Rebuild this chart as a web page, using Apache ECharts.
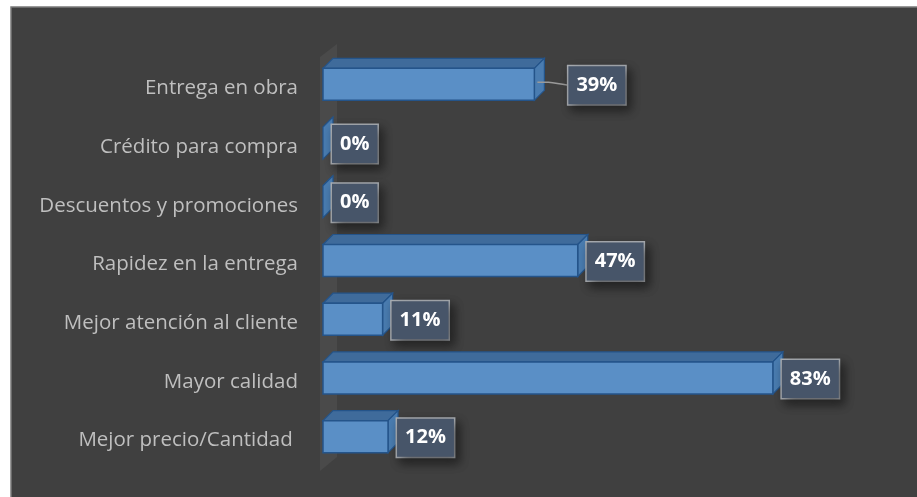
<!DOCTYPE html>
<html>
<head>
<meta charset="utf-8">
<script src="https://cdn.jsdelivr.net/npm/echarts@6/dist/echarts.min.js"></script>
<style>
  html, body { margin: 0; padding: 0; background: #ffffff; }
  #chart { width: 917px; height: 497px; }
</style>
</head>
<body>
<div id="chart"></div>
<script>
var categories = [
    'Entrega en obra',
    'Crédito para compra',
    'Descuentos y promociones',
    'Rapidez en la entrega',
    'Mejor atención al cliente',
    'Mayor calidad',
    'Mejor precio/Cantidad '
];
var values = [39, 0, 0, 47, 11, 83, 12];

var myChart = echarts.init(document.getElementById('chart'));

var DEPTH_X = 10, DEPTH_Y = -10, FACE_H = 32;
// the first label sits further right with a leader line, like in the original
var labelNudge = [25, 0, 0, 0, 0, 0, 0];

function renderBar(params, api) {
    var i = params.dataIndex;
    var start = api.coord([0, i]);
    var end = api.coord([api.value(0), i]);
    var x0 = start[0], x1 = end[0], cy = start[1];
    var top = cy - FACE_H / 2, bot = cy + FACE_H / 2;
    var children = [];

    // category name (drawn here so it can sit a little below the bar centre)
    children.push({
        type: 'text',
        x: x0 - 25,
        y: cy + 4,
        style: {
            text: categories[api.value(1)],
            fill: '#bfbfbf',
            font: '20.5px "Open Sans", sans-serif',
            align: 'right',
            verticalAlign: 'middle'
        }
    });

    // top face
    children.push({
        type: 'polygon',
        shape: { points: [[x0, top], [x0 + DEPTH_X, top + DEPTH_Y], [x1 + DEPTH_X, top + DEPTH_Y], [x1, top]] },
        style: { fill: '#3f6b9b', stroke: '#24548a', lineWidth: 1.2 }
    });
    // side face
    children.push({
        type: 'polygon',
        shape: { points: [[x1, top], [x1 + DEPTH_X, top + DEPTH_Y], [x1 + DEPTH_X, bot + DEPTH_Y], [x1, bot]] },
        style: { fill: '#4a7cb0', stroke: '#24548a', lineWidth: 1.2 }
    });
    // front face
    if (x1 - x0 > 0.5) {
        children.push({
            type: 'rect',
            shape: { x: x0, y: top, width: x1 - x0, height: FACE_H },
            style: { fill: '#5a8fc6', stroke: '#24548a', lineWidth: 1.5 }
        });
    }

    var lx = x1 + 9 + labelNudge[i];
    if (labelNudge[i] > 0) {
        children.push({
            type: 'polyline',
            shape: { points: [[x1 + 3, cy - 2], [x1 + 14, cy - 2], [lx, cy + 1]], smooth: 0.4 },
            style: { stroke: '#9a9a9a', lineWidth: 1.5, fill: null }
        });
    }
    children.push({
        type: 'text',
        x: lx,
        y: cy + 1,
        style: {
            text: api.value(0) + '%',
            fill: '#ffffff',
            font: 'bold 20px "Open Sans", sans-serif',
            lineHeight: 24,
            verticalAlign: 'middle',
            align: 'left',
            backgroundColor: '#475569',
            borderColor: '#a9adb2',
            borderWidth: 1.5,
            padding: [7, 8, 7, 8],
            shadowColor: 'rgba(0,0,0,0.45)',
            shadowBlur: 10,
            shadowOffsetX: 4,
            shadowOffsetY: 5
        }
    });
    return { type: 'group', children: children };
}

var option = {
    backgroundColor: '#ffffff',
    animation: false,
    graphic: [
        {
            type: 'rect',
            z: -10,
            shape: { x: 11, y: 7, width: 920, height: 500 },
            style: { fill: '#404040', stroke: '#7a7a7a', lineWidth: 1.5 }
        },
        {
            type: 'polygon',
            z: -5,
            shape: { points: [[320, 57], [337, 44], [337, 457], [320, 471]] },
            style: { fill: '#4a4a4a' }
        }
    ],
    grid: { left: 323, right: 52, top: 55, bottom: 31 },
    xAxis: {
        type: 'value',
        min: 0,
        max: 100,
        show: false
    },
    yAxis: {
        type: 'category',
        data: categories,
        inverse: true,
        axisLine: { show: false },
        axisTick: { show: false },
        axisLabel: { show: false }
    },
    series: [{
        type: 'custom',
        renderItem: renderBar,
        encode: { x: 0, y: 1 },
        data: values.map(function (v, i) { return [v, i]; })
    }]
};

myChart.setOption(option);
</script>
</body>
</html>
